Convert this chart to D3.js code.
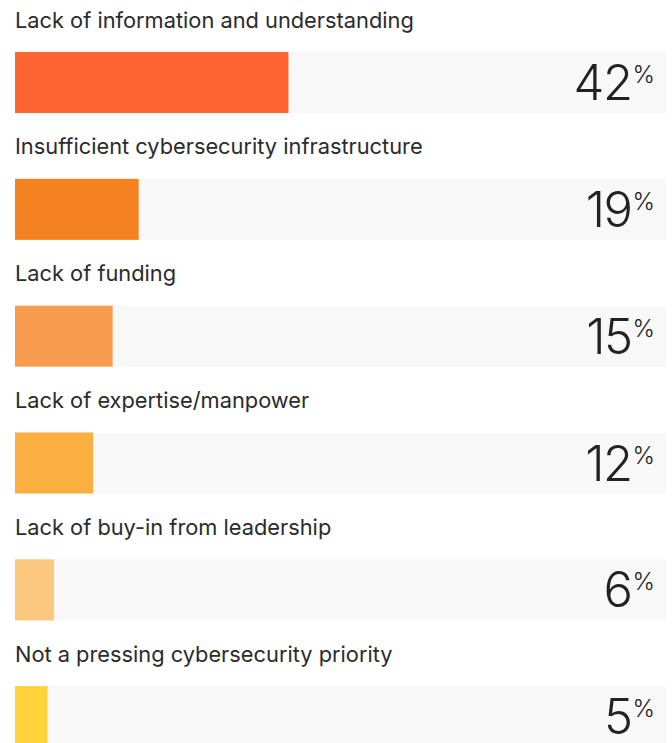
<!DOCTYPE html>
<html>
<head>
<meta charset="utf-8">
<script src="https://cdn.jsdelivr.net/npm/d3@7"></script>
<style>
  html, body { margin: 0; padding: 0; background: #ffffff; }
  svg { display: block; }
</style>
</head>
<body>
<svg id="chart" width="672" height="743"></svg>
<script>
// Barriers to improving cybersecurity, share of respondents
const categories = [
  "Lack of information and understanding",
  "Insufficient cybersecurity infrastructure",
  "Lack of funding",
  "Lack of expertise/manpower",
  "Lack of buy-in from leadership",
  "Not a pressing cybersecurity priority"
];
const values = [42, 19, 15, 12, 6, 5];
const colors = ["#FF6533", "#F48220", "#F79B4E", "#FAAF40", "#FCC880", "#FFD23B"];

const svg = d3.select("#chart");
const left = 15, right = 666;

const x = d3.scaleLinear().domain([0, 100]).range([left, right]);
const y = d3.scaleBand().domain(categories).range([0, 761]).paddingInner(0);

const rows = svg.selectAll("g.row")
  .data(categories.map((c, i) => ({ cat: c, value: values[i], color: colors[i] })))
  .join("g")
  .attr("class", "row")
  .attr("transform", d => `translate(0,${y(d.cat)})`);

rows.append("text")
  .attr("x", left)
  .attr("y", 27.5)
  .attr("font-family", "Inter, sans-serif")
  .attr("font-size", 21.8)
  .attr("fill", "#2b2b2b")
  .text(d => d.cat);

// full-width track
rows.append("rect")
  .attr("x", x(0))
  .attr("y", 52)
  .attr("width", x(100) - x(0))
  .attr("height", 61)
  .attr("fill", "#F8F8F8");

// value bar
rows.append("rect")
  .attr("x", x(0))
  .attr("y", 52)
  .attr("width", d => x(d.value) - x(0))
  .attr("height", 61)
  .attr("fill", d => d.color);

// value label: large number with raised percent sign
const lbl = rows.append("text")
  .attr("x", 655)
  .attr("y", 100)
  .attr("text-anchor", "end")
  .attr("font-family", "Inter, sans-serif")
  .attr("font-weight", 300)
  .attr("fill", "#222222");

lbl.append("tspan")
  .attr("font-size", 49)
  .attr("letter-spacing", -1.5)
  .text(d => d.value);

lbl.append("tspan")
  .attr("font-size", 24)
  .attr("dx", 1)
  .attr("dy", -17)
  .text("%");
</script>
</body>
</html>
